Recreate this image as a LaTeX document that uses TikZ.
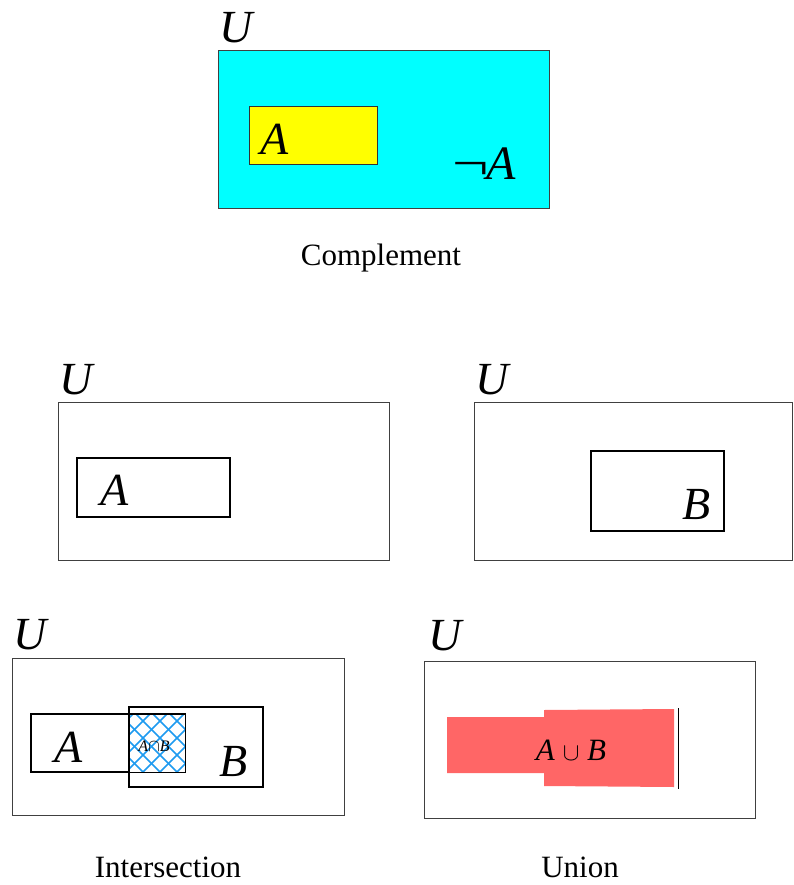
\documentclass[tikz,border=0pt]{standalone}
\usepackage{fontspec}
\setmainfont{Liberation Serif}
\definecolor{hatchblue}{RGB}{30,155,240}
\definecolor{unionred}{RGB}{255,102,102}
\definecolor{pcyan}{RGB}{0,255,255}
\definecolor{pyellow}{RGB}{255,255,0}
\begin{document}
\begin{tikzpicture}[x=1pt,y=-1pt,
  ubox/.style={draw=black!75,line width=0.9pt},
  setbox/.style={draw=black,line width=1.8pt},
  big/.style={font=\fontsize{46}{50}\selectfont\itshape,inner sep=0pt},
  captext/.style={font=\fontsize{31}{36}\selectfont,inner sep=0pt},
  hatch/.style={draw=hatchblue,line width=1.6pt}]
\useasboundingbox (0,0) rectangle (793,885);
% ---- Complement
\fill[pcyan] (218,50) rectangle (549,208);
\draw[ubox] (218,50) rectangle (549,208);
\fill[pyellow] (249,106) rectangle (377,164);
\draw[draw=black!80,line width=0.9pt] (249,106) rectangle (377,164);
\node[big] (u1) at (236,28) {U};
\node[big] (a1) at (275,139) {A};
\node[big,font=\fontsize{48}{50}\selectfont\itshape] (na) at (484,164) {\upshape\scalebox{1.35}[1]{¬}\kern-2pt\itshape A};
\node[captext] (c1) at (381,258) {Complement};
% ---- middle left
\draw[ubox] (58,402) rectangle (389,560);
\draw[setbox] (77,458) rectangle (230,517);
\node[big] (u2) at (76,380) {U};
\node[big] (a2) at (115,490) {A};
% ---- middle right
\draw[ubox] (474,402) rectangle (792.5,560);
\draw[setbox] (591,451) rectangle (724,531);
\node[big] (u3) at (492,380) {U};
\node[big] (b3) at (697,505) {B};
% ---- Intersection
\draw[ubox] (12,658) rectangle (344,815);
\draw[setbox] (31,714) rectangle (185,772);
\fill[white] (129,714) rectangle (185,772);
\begin{scope}
\clip (129,714) rectangle (185,772);
\foreach \k in {-80,-63,...,80} {
  \draw[hatch] (100+\k,700) -- (180+\k,780);
  \draw[hatch] (210+\k,700) -- (130+\k,780);
}
\end{scope}
\draw[draw=black,line width=0.9pt] (129,714) rectangle (185,772);
\draw[setbox] (129,707) rectangle (263,787);
\node[big] (u4) at (30,635) {U};
\node[big] (a4) at (69,747) {A};
\node[big] (b4) at (234,761) {B};
\node[inner sep=0pt,font=\fontsize{16}{17}\selectfont] (ab) at (154,746) {\textit{A}$\cap$\textit{B}};
\node[captext] (c2) at (168,867) {Intersection};
% ---- Union
\draw[ubox] (424,661) rectangle (755,818);
\fill[unionred] (447,717) -- (544,717) -- (544,710) -- (674,709) -- (674,787) -- (544,786) -- (544,773) -- (447,773) -- cycle;
\draw[black,line width=1pt] (678,708) -- (678,789);
\node[big] (u5) at (445,636) {U};
\node[inner sep=0pt,font=\fontsize{31}{34}\selectfont] (aub) at (571,750) {\textit{A} $\cup$ \textit{B}};
\node[captext] (c3) at (580,867) {Union};
\end{tikzpicture}
\end{document}
